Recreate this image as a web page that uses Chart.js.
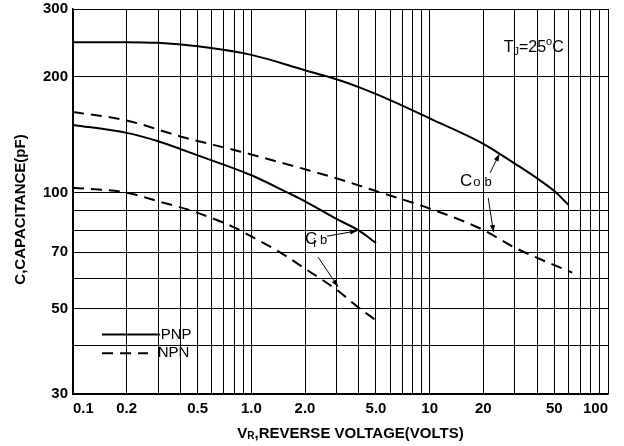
<!DOCTYPE html>
<html><head><meta charset="utf-8">
<script src="https://cdn.jsdelivr.net/npm/chart.js@4/dist/chart.umd.min.js"></script>
<style>html,body{margin:0;padding:0;background:#fff}#wrap{width:624px;height:446px}</style>
</head><body><div id="wrap"><canvas id="c" width="624" height="446"></canvas></div>
<script>
// ---- data ----
const pnpCobV = [0.1, 0.2, 0.3, 0.5, 1.0, 2.0, 3.0, 4.0, 6.0, 10, 20, 30, 40, 50, 60];
const pnpCobC = [246, 246, 245, 240, 228, 208, 197, 188, 174, 156, 134, 119, 109, 101, 93];
const pnpCibV = [0.1, 0.2, 0.3, 0.5, 1.0, 1.6, 2.0, 3.0, 4.0, 5.0];
const pnpCibC = [150, 143, 136, 125, 111, 100, 95, 85.5, 79.8, 74];
const npnCobV = [0.1, 0.2, 0.4, 0.86, 2.0, 3.0, 5.0, 10, 20, 30, 63];
const npnCobC = [162, 154, 140, 128, 115, 109, 101, 91, 80, 72, 62];
const npnCibV = [0.1, 0.2, 0.3, 0.44, 0.8, 1.0, 1.45, 2.0, 3.0, 4.0, 5.0];
const npnCibC = [103, 100, 95, 90.4, 81.3, 77, 70, 63.5, 56, 50.3, 46.6];

const xGridValues = [0.1,0.2,0.3,0.4,0.5,0.6,0.7,0.8,0.9,1,2,3,4,5,6,7,8,9,10,20,30,40,50,60,70,80,90,100];
const xTickValues = [0.1, 0.2, 0.5, 1, 2, 5, 10, 20, 50, 100];
const xTickLabels = ['0.1', '0.2', '0.5', '1.0', '2.0', '5.0', '10', '20', '50', '100'];
const yGridValues = [30, 40, 50, 60, 70, 80, 90, 100, 200, 300];
const yTickValues = [30, 50, 70, 100, 200, 300];
const yTickLabels = ['30', '50', '70', '100', '200', '300'];

const xTitleMain = 'V', xTitleSub = 'R', xTitleRest = ',REVERSE VOLTAGE(VOLTS)';
const yTitle = 'C,CAPACITANCE(pF)';
const legendLabels = ['PNP', 'NPN'];

// annotation anchors in data coordinates
const annot = {
  tj: {v: 26.0, c: 232},
  cob: {v: 14.8, c: 104, up: [[21.8, 112.5], [24.6, 126]], down: [[21.3, 97], [22.8, 79]]},
  cib: {v: 2.0, c: 73.5, right: [[2.66, 77.1], [3.92, 79.6]], down: [[2.37, 68], [3.06, 57]]},
  legend: {v1: 0.1455, v2: 0.3076, vText: 0.31, cPnp: 42.8, cNpn: 38.3}
};

const pts = (vs, cs) => vs.map((v, i) => ({x: v, y: cs[i]}));
const FONT = '"Liberation Sans", Arial, sans-serif';
const DASH = [11, 7];

function lookup(vals, labels, v) {
  for (let i = 0; i < vals.length; i++) if (Math.abs(vals[i] - v) / vals[i] < 1e-6) return labels[i];
  return '';
}

function arrow(ctx, x1, y1, x2, y2) {
  ctx.beginPath(); ctx.moveTo(x1, y1); ctx.lineTo(x2, y2); ctx.stroke();
  const a = Math.atan2(y2 - y1, x2 - x1), L = 7, W = 2.6;
  ctx.beginPath();
  ctx.moveTo(x2, y2);
  ctx.lineTo(x2 - L * Math.cos(a) + W * Math.sin(a), y2 - L * Math.sin(a) - W * Math.cos(a));
  ctx.lineTo(x2 - L * Math.cos(a) - W * Math.sin(a), y2 - L * Math.sin(a) + W * Math.cos(a));
  ctx.closePath(); ctx.fill();
}

function segText(ctx, x, y, segs) {
  for (const s of segs) {
    ctx.font = s.f;
    ctx.fillText(s.t, x, y + (s.dy || 0));
    x += ctx.measureText(s.t).width + (s.gap || 0);
  }
  return x;
}

const annotPlugin = {
  id: 'annot',
  afterDraw(chart) {
    const {ctx, scales: {x, y}, chartArea} = chart;
    const px = v => x.getPixelForValue(v), py = c => y.getPixelForValue(c);
    ctx.save();
    ctx.fillStyle = '#000'; ctx.strokeStyle = '#000';
    ctx.textBaseline = 'alphabetic'; ctx.textAlign = 'left';

    // y title
    ctx.save();
    ctx.translate(21, (chartArea.top + chartArea.bottom) / 2 + 8);
    ctx.rotate(-Math.PI / 2);
    ctx.font = 'bold 15px ' + FONT;
    ctx.textAlign = 'center'; ctx.textBaseline = 'middle';
    ctx.fillText(yTitle, 0, 0);
    ctx.restore();

    // x title with subscript
    const segsX = [
      {t: xTitleMain, f: 'bold 15px ' + FONT},
      {t: xTitleSub, f: 'bold 10px ' + FONT, dy: 1},
      {t: xTitleRest, f: 'bold 15px ' + FONT}
    ];
    let w = 0;
    for (const s of segsX) { ctx.font = s.f; w += ctx.measureText(s.t).width; }
    segText(ctx, (chartArea.left + chartArea.right) / 2 + 10 - w / 2, 438, segsX);

    // T_J = 25 °C
    segText(ctx, px(annot.tj.v), py(annot.tj.c), [
      {t: 'T', f: '16px ' + FONT},
      {t: 'J', f: '11px ' + FONT, dy: 3},
      {t: '=25', f: '16px ' + FONT},
      {t: 'o', f: '11px ' + FONT, dy: -7},
      {t: 'C', f: '16px ' + FONT}
    ]);

    // C_ob
    segText(ctx, px(annot.cob.v), py(annot.cob.c), [
      {t: 'C', f: '17px ' + FONT, gap: 1},
      {t: 'o', f: '13px ' + FONT, gap: 4},
      {t: 'b', f: '13px ' + FONT}
    ]);
    ctx.lineWidth = 1;
    arrow(ctx, px(annot.cob.up[0][0]), py(annot.cob.up[0][1]), px(annot.cob.up[1][0]), py(annot.cob.up[1][1]));
    arrow(ctx, px(annot.cob.down[0][0]), py(annot.cob.down[0][1]), px(annot.cob.down[1][0]), py(annot.cob.down[1][1]));

    // C_ib
    segText(ctx, px(annot.cib.v), py(annot.cib.c), [
      {t: 'C', f: '17px ' + FONT, gap: -4},
      {t: 'i', f: '12px ' + FONT, dy: 3, gap: 4},
      {t: 'b', f: '13px ' + FONT}
    ]);
    arrow(ctx, px(annot.cib.right[0][0]), py(annot.cib.right[0][1]), px(annot.cib.right[1][0]), py(annot.cib.right[1][1]));
    arrow(ctx, px(annot.cib.down[0][0]), py(annot.cib.down[0][1]), px(annot.cib.down[1][0]), py(annot.cib.down[1][1]));

    // legend
    const L = annot.legend;
    ctx.lineWidth = 2;
    ctx.beginPath(); ctx.moveTo(px(L.v1), py(L.cPnp)); ctx.lineTo(px(L.v2), py(L.cPnp)); ctx.stroke();
    ctx.setLineDash(DASH);
    ctx.beginPath(); ctx.moveTo(px(L.v1), py(L.cNpn)); ctx.lineTo(px(L.v2) - 12, py(L.cNpn)); ctx.stroke();
    ctx.setLineDash([]);
    ctx.font = '15px ' + FONT; ctx.textBaseline = 'middle';
    ctx.fillText(legendLabels[0], px(L.vText), py(L.cPnp));
    ctx.fillText(legendLabels[1], px(L.vText) - 3, py(L.cNpn));
    ctx.restore();
  }
};

const lineDs = (label, data, dashed) => ({
  label, data,
  borderColor: '#000', borderWidth: 2, borderDash: dashed ? DASH : [],
  pointRadius: 0, fill: false, cubicInterpolationMode: 'monotone'
});

new Chart(document.getElementById('c'), {
  type: 'line',
  data: {
    datasets: [
      lineDs('PNP Cob', pts(pnpCobV, pnpCobC), false),
      lineDs('PNP Cib', pts(pnpCibV, pnpCibC), false),
      lineDs('NPN Cob', pts(npnCobV, npnCobC), true),
      lineDs('NPN Cib', pts(npnCibV, npnCibC), true)
    ]
  },
  options: {
    responsive: false, animation: false, devicePixelRatio: 1,
    layout: {padding: {top: 9, right: 16, left: 0, bottom: 0}},
    plugins: {legend: {display: false}, tooltip: {enabled: false}},
    scales: {
      x: {
        type: 'logarithmic', min: 0.1, max: 100,
        afterBuildTicks: s => { s.ticks = xGridValues.map(v => ({value: v})); },
        afterFit: s => { s.height = 52; s.paddingLeft = 0; s.paddingRight = 0; },
        ticks: {
          autoSkip: false, maxRotation: 0, align: 'inner', padding: 6, color: '#000',
          font: {family: FONT, size: 15, weight: 'bold'},
          callback: v => lookup(xTickValues, xTickLabels, v)
        },
        grid: {color: '#000', lineWidth: 1, drawTicks: false},
        border: {display: true, color: '#000', width: 1.5}
      },
      y: {
        type: 'logarithmic', min: 30, max: 300,
        afterBuildTicks: s => { s.ticks = yGridValues.map(v => ({value: v})); },
        afterFit: s => { s.width = 73; s.paddingTop = 0; s.paddingBottom = 0; },
        ticks: {
          autoSkip: false, padding: 5, color: '#000',
          font: {family: FONT, size: 15, weight: 'bold'},
          callback: v => lookup(yTickValues, yTickLabels, v)
        },
        grid: {color: '#000', lineWidth: 1, drawTicks: false},
        border: {display: true, color: '#000', width: 1.5}
      }
    }
  },
  plugins: [annotPlugin]
});
</script></body></html>
